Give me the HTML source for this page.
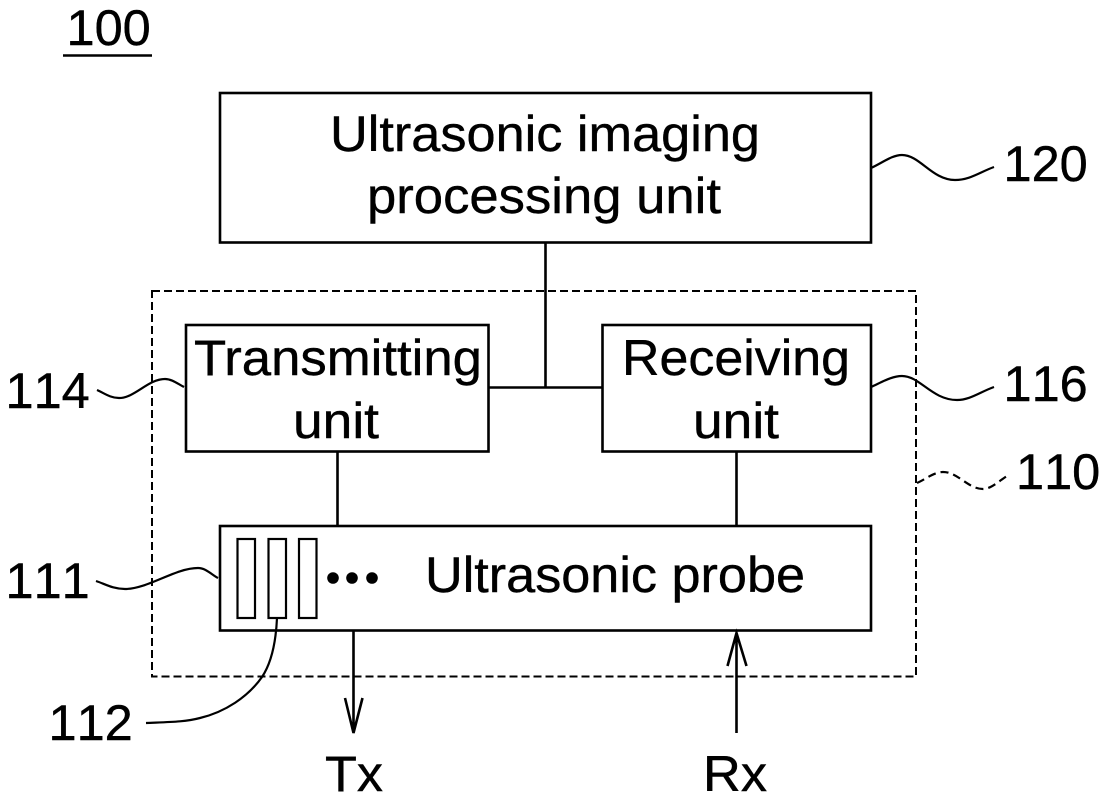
<!DOCTYPE html>
<html>
<head>
<meta charset="utf-8">
<style>
html,body{margin:0;padding:0;background:#fff;width:1106px;height:801px;overflow:hidden}
svg{display:block}
text{font-family:"Liberation Sans",Arial,sans-serif;font-size:50px;fill:#000;stroke:#000;stroke-width:.4px}
text.n{font-size:50.500px;font-kerning:none}
</style>
</head>
<body>
<svg width="1106" height="801" viewBox="0 0 1106 801" xmlns="http://www.w3.org/2000/svg">
<g fill="none" stroke="#000" stroke-width="2.600">
<rect x="220" y="93" width="651" height="149.500"/>
<rect x="152" y="291" width="764" height="385.500" stroke-dasharray="8 4" stroke-width="2"/>
<rect x="186" y="325" width="302.500" height="126.500"/>
<rect x="602.500" y="325" width="268.500" height="126.500"/>
<rect x="220" y="526" width="651" height="104.500"/>
<g stroke-width="2.200">
<rect x="237.500" y="539" width="17.500" height="79"/>
<rect x="268.500" y="539" width="17.500" height="79"/>
<rect x="299" y="539" width="17.500" height="79"/>
</g>
<path d="M545.500 243V387M489 387.500H602M337.500 452V526M736.500 452V526"/>
<path d="M353.500 631V733M345 698L353.500 733L362.500 698"/>
<path d="M736.500 733V633M727.500 666L736.500 633L746.500 666"/>
<path d="M63 55.500H152"/>
<g stroke-width="2.200">
<path d="M871 168C882 163 892 155 902 155C920 155 932 180 955 180C970 180 980 172 994 167"/>
<path d="M871 387C882 382 892 376 902 376C920 376 932 400 957 400C970 400 980 392 994 387"/>
<path d="M917 483C926 479 934 472 943 472C958 472 968 489 983 489C991 489 999 481 1007 476" stroke-dasharray="8 5"/>
<path d="M97 390C104 393 110 398 119 398C135 398 148 379 165 379C172 379 178 384 184 387"/>
<path d="M96 581C105 584 113 589 125 589C148 589 175 568 198 568C206 568 212 575 218 578"/>
<path d="M146 723C170 722 185 722 200 718C225 712 248 697 262 677C272 662 276 640 277 618"/>
</g>
</g>
<circle cx="333" cy="578" r="5.800"/><circle cx="352" cy="578" r="5.800"/><circle cx="372" cy="578" r="5.800"/>
<text class="n" x="66.500" y="45">100</text>
<text x="545" y="151" text-anchor="middle" textLength="430" lengthAdjust="spacingAndGlyphs">Ultrasonic imaging</text>
<text x="544" y="213" text-anchor="middle" textLength="354" lengthAdjust="spacingAndGlyphs">processing unit</text>
<text x="338" y="375" text-anchor="middle" textLength="288" lengthAdjust="spacingAndGlyphs">Transmitting</text>
<text x="336" y="438" text-anchor="middle" textLength="86" lengthAdjust="spacingAndGlyphs">unit</text>
<text x="736" y="375" text-anchor="middle" textLength="228" lengthAdjust="spacingAndGlyphs">Receiving</text>
<text x="736" y="438" text-anchor="middle" textLength="86" lengthAdjust="spacingAndGlyphs">unit</text>
<text x="615" y="592" text-anchor="middle" textLength="380" lengthAdjust="spacingAndGlyphs">Ultrasonic probe</text>
<text class="n" x="1003.500" y="181">120</text>
<text class="n" x="1003.500" y="401">116</text>
<text class="n" x="1016" y="489">110</text>
<text class="n" x="5.500" y="408">114</text>
<text class="n" x="5.500" y="598">111</text>
<text class="n" x="48.500" y="740">112</text>
<text x="325" y="791" textLength="58" lengthAdjust="spacingAndGlyphs">Tx</text>
<text x="703" y="791" textLength="64" lengthAdjust="spacingAndGlyphs">Rx</text>
</svg>
</body>
</html>
